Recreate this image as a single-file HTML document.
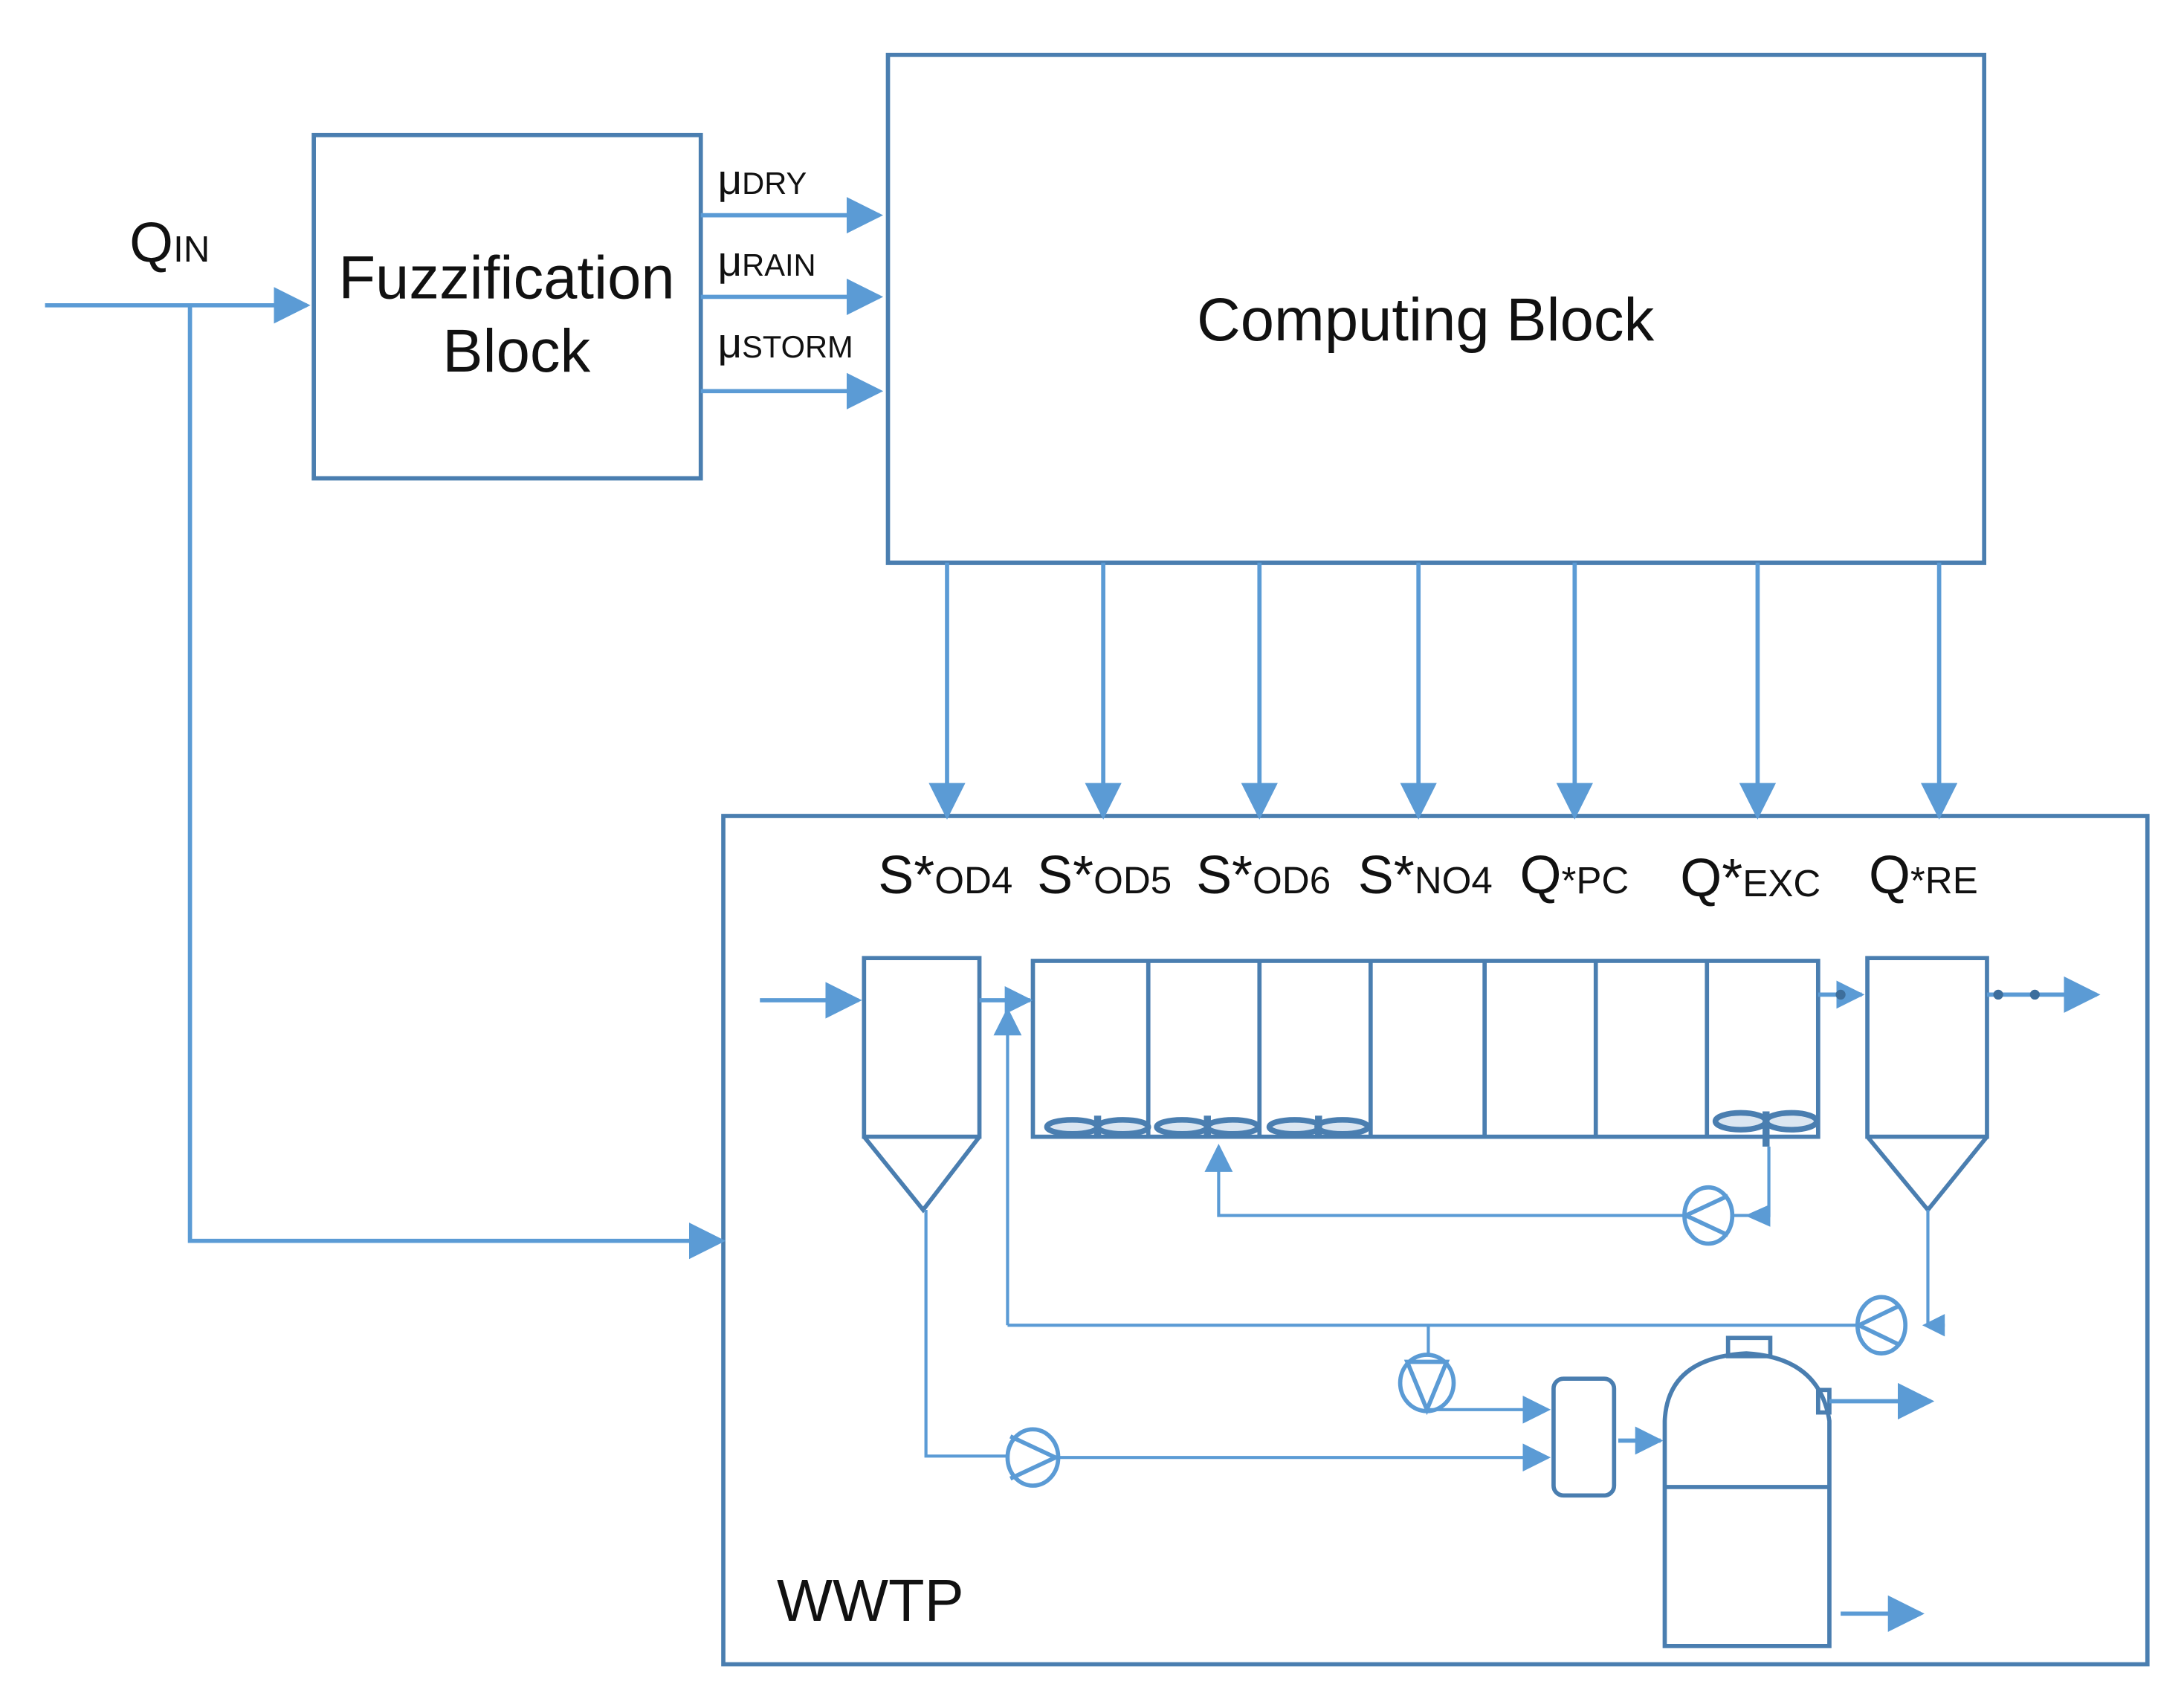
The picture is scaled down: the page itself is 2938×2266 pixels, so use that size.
<!DOCTYPE html>
<html><head><meta charset="utf-8"><style>
html,body{margin:0;padding:0;background:#fff;}
svg{display:block}
text{font-family:"Liberation Sans",sans-serif;fill:#111}
</style></head><body>
<svg width="2938" height="2266" viewBox="0 0 1552 1197" xmlns="http://www.w3.org/2000/svg">
<defs>
<marker id="b" viewBox="0 0 10 10" refX="9" refY="5" markerWidth="26" markerHeight="26" markerUnits="userSpaceOnUse" orient="auto"><path d="M0,0L10,5L0,10z" fill="#5B9BD5"/></marker>
<marker id="c" viewBox="0 0 10 10" refX="9" refY="5" markerWidth="20" markerHeight="20" markerUnits="userSpaceOnUse" orient="auto"><path d="M0,0L10,5L0,10z" fill="#5B9BD5"/></marker>
</defs>
<g fill="none" stroke="#4A7EB0" stroke-width="3">
<rect x="223" y="96" width="275" height="244"/>
<rect x="631" y="39" width="779" height="361"/>
<rect x="514" y="580" width="1012" height="603"/>
<path d="M614,681H696V808H614Z M614,808L656,860L696,808"/>
<rect x="734" y="683" width="558" height="125"/>
<path d="M816,683V808M895,683V808M974,683V808M1055,683V808M1134,683V808M1213,683V808"/>
<path d="M1327,681H1412V808H1327Z M1327,808L1370,860L1412,808"/>
<rect x="1104" y="980" width="43" height="83" rx="7"/>
<path d="M1183,1170V1010Q1185,965 1241,962Q1293,965 1300,1010V1170Z M1183,1057H1300"/>
<rect x="1228" y="951" width="30" height="13"/>
<rect x="1292" y="988" width="8" height="16"/>
</g>
<g fill="#dbe6f1" stroke="#4A7EB0" stroke-width="4">
<ellipse cx="762" cy="801" rx="18" ry="5"/><ellipse cx="798" cy="801" rx="18" ry="5"/>
<ellipse cx="840" cy="801" rx="18" ry="5"/><ellipse cx="876" cy="801" rx="18" ry="5"/>
<ellipse cx="920" cy="801" rx="18" ry="5"/><ellipse cx="954" cy="801" rx="18" ry="5"/>
<ellipse cx="1237" cy="797" rx="18" ry="6"/><ellipse cx="1273" cy="797" rx="18" ry="6"/>
</g>
<path d="M1255,790V815M780,793V808M858,793V808M937,793V808" stroke="#4A7EB0" stroke-width="5"/>
<g fill="none" stroke="#5B9BD5" stroke-width="3">
<path d="M32,217H218" marker-end="url(#b)"/>
<path d="M135,217V882H513" marker-end="url(#b)"/>
<path d="M498,153H625" marker-end="url(#b)"/>
<path d="M498,211H625" marker-end="url(#b)"/>
<path d="M498,278H625" marker-end="url(#b)"/>
<path d="M673,400V580" marker-end="url(#b)"/>
<path d="M784,400V580" marker-end="url(#b)"/>
<path d="M895,400V580" marker-end="url(#b)"/>
<path d="M1008,400V580" marker-end="url(#b)"/>
<path d="M1119,400V580" marker-end="url(#b)"/>
<path d="M1249,400V580" marker-end="url(#b)"/>
<path d="M1378,400V580" marker-end="url(#b)"/>
<path d="M540,711H610" marker-end="url(#b)"/>
<path d="M696,711H732" marker-end="url(#c)"/>
<path d="M1412,707H1490" marker-end="url(#b)"/>
<path d="M1292,707H1323" marker-end="url(#c)"/>
<path d="M1300,996H1372" marker-end="url(#b)"/>
<path d="M1308,1147H1365" marker-end="url(#b)"/>
<path d="M1150,1024H1180" marker-end="url(#c)"/>
</g>
<g fill="none" stroke="#5B9BD5" stroke-width="2.2">
<path d="M716,942V718" marker-end="url(#c)"/>
<path d="M716,942H1320"/>
<path d="M1370,860V942H1382"/>
<path d="M1257,815V864H1232"/>
<path d="M1196,864H866V815" marker-end="url(#c)"/>
<path d="M1015,942V964"/>
<path d="M1015,1002H1100" marker-end="url(#c)"/>
<path d="M658,860V1035H716"/>
<path d="M752,1036H1100" marker-end="url(#c)"/>
</g>
<g fill="none" stroke="#5B9BD5" stroke-width="3">
<ellipse cx="1214" cy="864" rx="17" ry="20"/><path d="M1198,864L1228,850M1198,864L1228,878"/>
<ellipse cx="1337" cy="942" rx="17" ry="20"/><path d="M1321,942L1350,928M1321,942L1350,956"/>
<ellipse cx="1014" cy="983" rx="19" ry="20"/><path d="M1000,968H1028L1014,1002Z"/>
<ellipse cx="734" cy="1036" rx="18" ry="20"/><path d="M718,1021L750,1036L718,1051"/>
</g>
<g fill="#5B9BD5">
<path d="M1258,856L1258,872L1240,864Z"/>
<path d="M1382,934L1382,950L1366,942Z"/>
<circle cx="1308" cy="707" r="3.5" fill="#3d6e9c"/>
<circle cx="1420" cy="707" r="3.5" fill="#3d6e9c"/>
<circle cx="1446" cy="707" r="3.5" fill="#3d6e9c"/>
</g>
<text x="92" y="186" font-size="40">Q<tspan font-size="26">IN</tspan></text>
<text x="360" y="212" font-size="43" text-anchor="middle">Fuzzification</text>
<text x="367" y="264" font-size="43" text-anchor="middle">Block</text>
<text x="510" y="138" font-size="30">μ<tspan font-size="22">DRY</tspan></text>
<text x="510" y="196" font-size="30">μ<tspan font-size="22">RAIN</tspan></text>
<text x="510" y="254" font-size="30">μ<tspan font-size="22">STORM</tspan></text>
<text x="1013" y="242" font-size="43" text-anchor="middle">Computing  Block</text>
<text x="624" y="635" font-size="38">S*<tspan font-size="27">OD4</tspan></text>
<text x="737" y="635" font-size="38">S*<tspan font-size="27">OD5</tspan></text>
<text x="850" y="635" font-size="38">S*<tspan font-size="27">OD6</tspan></text>
<text x="965" y="635" font-size="38">S*<tspan font-size="27">NO4</tspan></text>
<text x="1080" y="635" font-size="38">Q<tspan font-size="27">*PC</tspan></text>
<text x="1194" y="637" font-size="38">Q*<tspan font-size="27">EXC</tspan></text>
<text x="1328" y="635" font-size="38">Q<tspan font-size="27">*RE</tspan></text>
<text x="552" y="1152" font-size="42">WWTP</text>
</svg>
</body></html>
